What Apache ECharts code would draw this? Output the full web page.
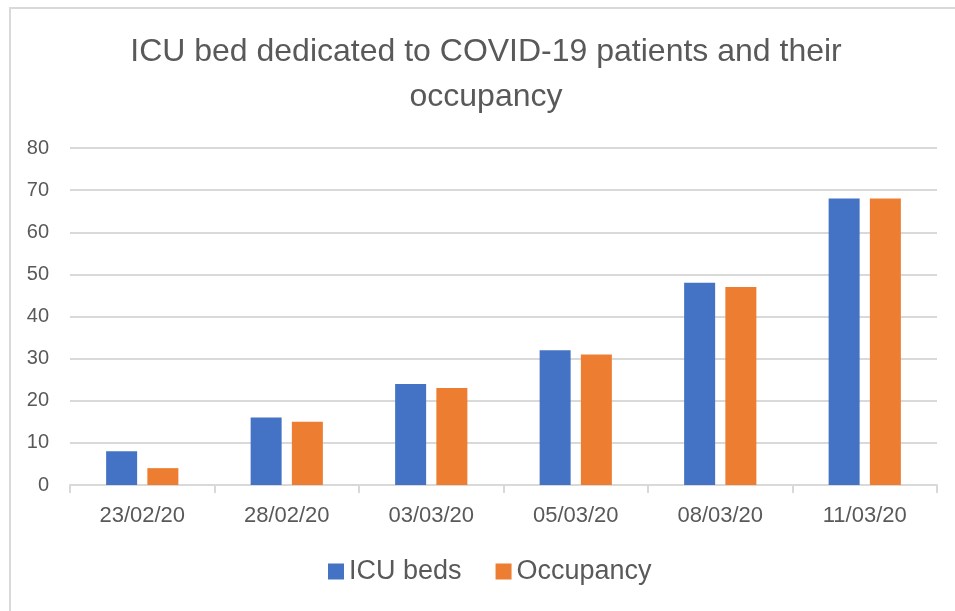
<!DOCTYPE html>
<html>
<head>
<meta charset="utf-8">
<script src="https://cdn.jsdelivr.net/npm/echarts@6/dist/echarts.min.js"></script>
<style>
  html, body { margin: 0; padding: 0; background: #fff; }
  #chart { width: 955px; height: 611px; }
</style>
</head>
<body>
<div id="chart"></div>
<script>
// dates on the x axis
var dates = ['23/02/20', '28/02/20', '03/03/20', '05/03/20', '08/03/20', '11/03/20'];
var icuBeds = [8, 16, 24, 32, 48, 68];
var occupancy = [4, 15, 23, 31, 47, 68];

var chart = echarts.init(document.getElementById('chart'));
var txt = '#595959';
var option = {
  backgroundColor: '#fff',
  animation: false,
  textStyle: { fontFamily: 'Liberation Sans' },
  graphic: [{
    type: 'rect',
    shape: { x: 10, y: 8, width: 960, height: 620 },
    style: { fill: 'none', stroke: '#d9d9d9', lineWidth: 2 }
  }],
  title: {
    text: 'ICU bed dedicated to COVID-19 patients and their\noccupancy',
    left: 481,
    textAlign: 'center',
    top: 25,
    textStyle: { color: txt, fontSize: 32, fontWeight: 'normal', lineHeight: 45, fontFamily: 'Liberation Sans' }
  },
  legend: {
    top: 553,
    left: 323,
    itemWidth: 16,
    itemHeight: 16,
    itemGap: 34,
    icon: 'rect',
    textStyle: { color: txt, fontSize: 27 },
    data: ['ICU beds', 'Occupancy']
  },
  grid: { left: 70, right: 18, top: 148, bottom: 126 },
  xAxis: {
    type: 'category',
    data: dates,
    axisLine: { lineStyle: { color: '#d9d9d9', width: 2 } },
    axisTick: { show: true, length: 8, lineStyle: { color: '#d9d9d9', width: 2 } },
    axisLabel: { color: txt, fontSize: 22, margin: 20 }
  },
  yAxis: {
    type: 'value',
    min: 0,
    max: 80,
    interval: 10,
    axisLine: { show: false },
    axisTick: { show: false },
    axisLabel: { color: txt, fontSize: 20, margin: 21 },
    splitLine: { lineStyle: { color: '#d9d9d9', width: 2 } }
  },
  series: [
    {
      name: 'ICU beds',
      type: 'bar',
      data: icuBeds,
      barWidth: 31,
      barGap: '33%',
      itemStyle: { color: '#4472C4' }
    },
    {
      name: 'Occupancy',
      type: 'bar',
      data: occupancy,
      barWidth: 31,
      barGap: '33%',
      itemStyle: { color: '#ED7D31' }
    }
  ]
};
chart.setOption(option);
</script>
</body>
</html>
